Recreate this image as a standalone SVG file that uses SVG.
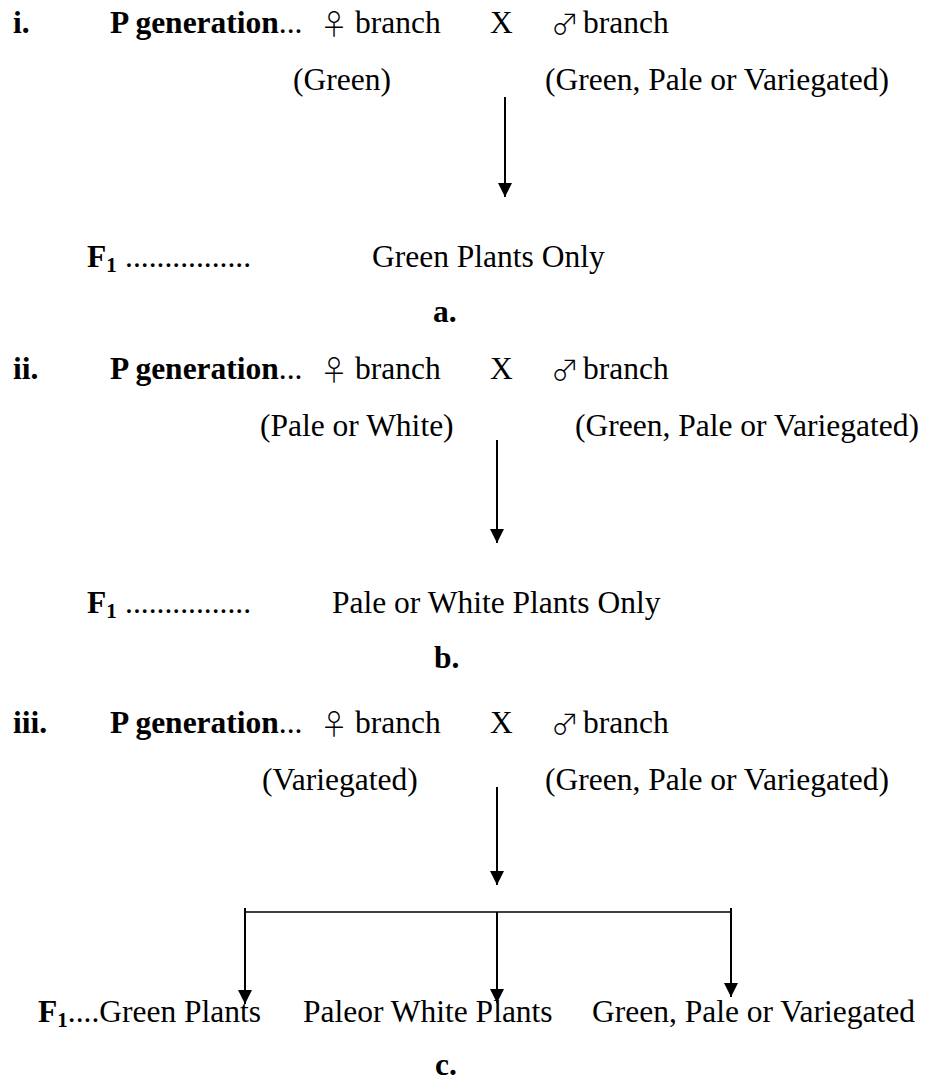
<svg xmlns="http://www.w3.org/2000/svg" width="933" height="1083" viewBox="0 0 933 1083">
<style>
.t{font-family:"Liberation Serif","Times New Roman",serif;font-size:31.5px;fill:#000}
.b{font-weight:bold}
.sym{font-family:"Noto Sans CJK JP","DejaVu Sans",sans-serif;font-size:28px;font-weight:300;fill:#000}
.sub{font-size:21px;font-weight:bold}
.ln{stroke:#000;stroke-width:2;fill:none}
.hl{stroke:#000;stroke-width:1.5;fill:none}
</style>
<defs>
<marker id="ah" markerUnits="userSpaceOnUse" markerWidth="14" markerHeight="14" refX="14" refY="7" orient="auto">
<path d="M0,0 L14,7 L0,14 z" fill="#000"/>
</marker>
</defs>
<rect width="933" height="1083" fill="#fff"/>

<g id="section-i">
<text x="13" y="33" class="t b">i.</text>
<text x="110" y="33" class="t"><tspan class="b">P generation</tspan>...</text>
<text x="320" y="35" class="sym">♀</text>
<text x="355" y="33" class="t">branch</text>
<text x="490" y="33" class="t">X</text>
<text x="551" y="35" class="sym">♂</text>
<text x="583" y="33" class="t">branch</text>
<text x="293" y="90" class="t">(Green)</text>
<text x="545" y="90" class="t">(Green, Pale or Variegated)</text>
</g>
<g id="f1-a">
<text x="87" y="267" class="t b">F<tspan class="sub" dy="5">1</tspan></text>
<text x="125" y="267" class="t">................</text>
<text x="372" y="267" class="t">Green Plants Only</text>
<text x="433" y="322" class="t b">a.</text>
</g>

<g id="section-ii">
<text x="13" y="379" class="t b">ii.</text>
<text x="110" y="379" class="t"><tspan class="b">P generation</tspan>...</text>
<text x="320" y="381" class="sym">♀</text>
<text x="355" y="379" class="t">branch</text>
<text x="490" y="379" class="t">X</text>
<text x="551" y="381" class="sym">♂</text>
<text x="583" y="379" class="t">branch</text>
<text x="260" y="436" class="t">(Pale or White)</text>
<text x="575" y="436" class="t">(Green, Pale or Variegated)</text>
</g>
<g id="f1-b">
<text x="87" y="613" class="t b">F<tspan class="sub" dy="5">1</tspan></text>
<text x="125" y="613" class="t">................</text>
<text x="332" y="613" class="t">Pale or White Plants Only</text>
<text x="434" y="668" class="t b">b.</text>
</g>

<g id="section-iii">
<text x="13" y="733" class="t b">iii.</text>
<text x="110" y="733" class="t"><tspan class="b">P generation</tspan>...</text>
<text x="320" y="735" class="sym">♀</text>
<text x="355" y="733" class="t">branch</text>
<text x="490" y="733" class="t">X</text>
<text x="551" y="735" class="sym">♂</text>
<text x="583" y="733" class="t">branch</text>
<text x="262" y="790" class="t">(Variegated)</text>
<text x="545" y="790" class="t">(Green, Pale or Variegated)</text>
</g>
<g id="f1-c">
<text x="38" y="1022" class="t"><tspan class="b">F</tspan><tspan class="sub" dy="5">1</tspan><tspan dy="-5">....Green Plants</tspan></text>
<text x="303" y="1022" class="t">Paleor White Plants</text>
<text x="592" y="1022" class="t">Green, Pale or Variegated</text>
<text x="435" y="1075" class="t b">c.</text>
</g>

<g id="connectors">
<line x1="505" y1="97" x2="505" y2="197" class="ln" marker-end="url(#ah)"/>
<line x1="497" y1="440" x2="497" y2="543" class="ln" marker-end="url(#ah)"/>
<line x1="497" y1="787" x2="497" y2="885" class="ln" marker-end="url(#ah)"/>
<line x1="244" y1="912" x2="731" y2="912" class="hl"/>
<line x1="245" y1="908" x2="245" y2="1004" class="ln" marker-end="url(#ah)"/>
<line x1="497" y1="912" x2="497" y2="1003" class="ln" marker-end="url(#ah)"/>
<line x1="731" y1="908" x2="731" y2="997" class="ln" marker-end="url(#ah)"/>
</g>
</svg>
